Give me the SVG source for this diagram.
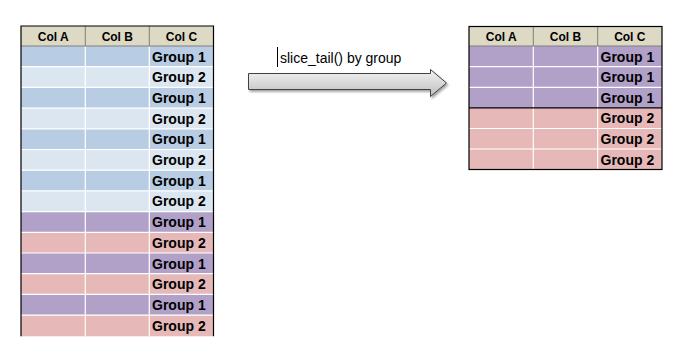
<svg xmlns="http://www.w3.org/2000/svg" width="681" height="360" viewBox="0 0 681 360">
<defs>
<linearGradient id="ag" x1="0" y1="0" x2="0" y2="1">
<stop offset="0" stop-color="#f4f4f4"/>
<stop offset="1" stop-color="#bdbdbd"/>
</linearGradient>
<filter id="sh" x="-10%" y="-30%" width="120%" height="180%">
<feDropShadow dx="1.5" dy="2" stdDeviation="1.2" flood-color="#000" flood-opacity="0.35"/>
</filter>
</defs>
<style>
.hd{fill:#DDD9C4}
.b1{fill:#B8CCE4}
.b2{fill:#DCE6F1}
.pu{fill:#B1A0C7}
.pk{fill:#E6B8B7}
.wl{stroke:#fff;stroke-width:1.2;fill:none}
.gl{stroke:#7f7f7f;stroke-width:1;fill:none}
.bk{stroke:#000;stroke-width:1.2;fill:none}
.ht{font-family:"Liberation Sans",Arial,sans-serif;font-weight:bold;font-size:12px;text-anchor:middle;fill:#000}
.gt{font-family:"Liberation Sans",Arial,sans-serif;font-weight:bold;font-size:14px;fill:#000}
.lb{font-family:"Liberation Sans",Arial,sans-serif;font-size:14px;fill:#000}
</style>

<g id="left-table">
<rect class="hd" x="21" y="26" width="192.5" height="20"/>
<rect class="b1" x="21" y="46" width="192.5" height="20.7"/>
<rect class="b2" x="21" y="66.7" width="192.5" height="20.7"/>
<rect class="b1" x="21" y="87.4" width="192.5" height="20.7"/>
<rect class="b2" x="21" y="108.1" width="192.5" height="20.7"/>
<rect class="b1" x="21" y="128.8" width="192.5" height="20.7"/>
<rect class="b2" x="21" y="149.5" width="192.5" height="20.7"/>
<rect class="b1" x="21" y="170.2" width="192.5" height="20.7"/>
<rect class="b2" x="21" y="190.9" width="192.5" height="20.7"/>
<rect class="pu" x="21" y="211.6" width="192.5" height="20.7"/>
<rect class="pk" x="21" y="232.3" width="192.5" height="20.7"/>
<rect class="pu" x="21" y="253" width="192.5" height="20.7"/>
<rect class="pk" x="21" y="273.7" width="192.5" height="20.7"/>
<rect class="pu" x="21" y="294.4" width="192.5" height="20.7"/>
<rect class="pk" x="21" y="315.1" width="192.5" height="21.2"/>
<path class="wl" d="M21 66.7H213.5M21 87.4H213.5M21 108.1H213.5M21 128.8H213.5M21 149.5H213.5M21 170.2H213.5M21 190.9H213.5M21 211.6H213.5M21 232.3H213.5M21 253H213.5M21 273.7H213.5M21 294.4H213.5M21 315.1H213.5M85.3 46V336.3M149.3 46V336.3"/>
<path class="gl" d="M85.3 26V46M149.3 26V46M21 46H213.5"/>
<path class="bk" d="M21 336.3V26H213.5V336.3"/>
<text class="ht" x="53.2" y="41">Col A</text>
<text class="ht" x="117.3" y="41">Col B</text>
<text class="ht" x="181.4" y="41">Col C</text>
<text class="gt" x="152" y="61.5">Group 1</text>
<text class="gt" x="152" y="82.2">Group 2</text>
<text class="gt" x="152" y="102.9">Group 1</text>
<text class="gt" x="152" y="123.6">Group 2</text>
<text class="gt" x="152" y="144.3">Group 1</text>
<text class="gt" x="152" y="165">Group 2</text>
<text class="gt" x="152" y="185.7">Group 1</text>
<text class="gt" x="152" y="206.4">Group 2</text>
<text class="gt" x="152" y="227.1">Group 1</text>
<text class="gt" x="152" y="247.8">Group 2</text>
<text class="gt" x="152" y="268.5">Group 1</text>
<text class="gt" x="152" y="289.2">Group 2</text>
<text class="gt" x="152" y="309.9">Group 1</text>
<text class="gt" x="152" y="330.6">Group 2</text>
</g>

<g id="right-table">
<rect class="hd" x="469" y="26.5" width="193" height="19.5"/>
<rect class="pu" x="469" y="46" width="193" height="61.9"/>
<rect class="pk" x="469" y="107.9" width="193" height="61.6"/>
<path class="wl" d="M469 66.7H662M469 87.4H662M469 128.5H662M469 149H662M533.3 46V169.5M597.7 46V169.5"/>
<path class="gl" d="M533.3 26.5V46M597.7 26.5V46M469 46H662"/>
<path class="bk" d="M469 107.9H662"/>
<rect class="bk" x="469" y="26.5" width="193" height="143"/>
<text class="ht" x="501.2" y="41">Col A</text>
<text class="ht" x="565.5" y="41">Col B</text>
<text class="ht" x="629.8" y="41">Col C</text>
<text class="gt" x="600.5" y="61.5">Group 1</text>
<text class="gt" x="600.5" y="82.2">Group 1</text>
<text class="gt" x="600.5" y="102.9">Group 1</text>
<text class="gt" x="600.5" y="123.4">Group 2</text>
<text class="gt" x="600.5" y="144">Group 2</text>
<text class="gt" x="600.5" y="164.6">Group 2</text>
</g>

<g id="connectors">
<path d="M248.5 73.5H430.5V69.5L446.5 83L430.5 96.5V89.5H248.5Z" fill="url(#ag)" stroke="#3f3f3f" stroke-width="1" filter="url(#sh)"/>
<path d="M277.5 47V67" stroke="#000" stroke-width="1"/>
<text class="lb" x="280" y="62.5">slice_tail() by group</text>
</g>
</svg>
